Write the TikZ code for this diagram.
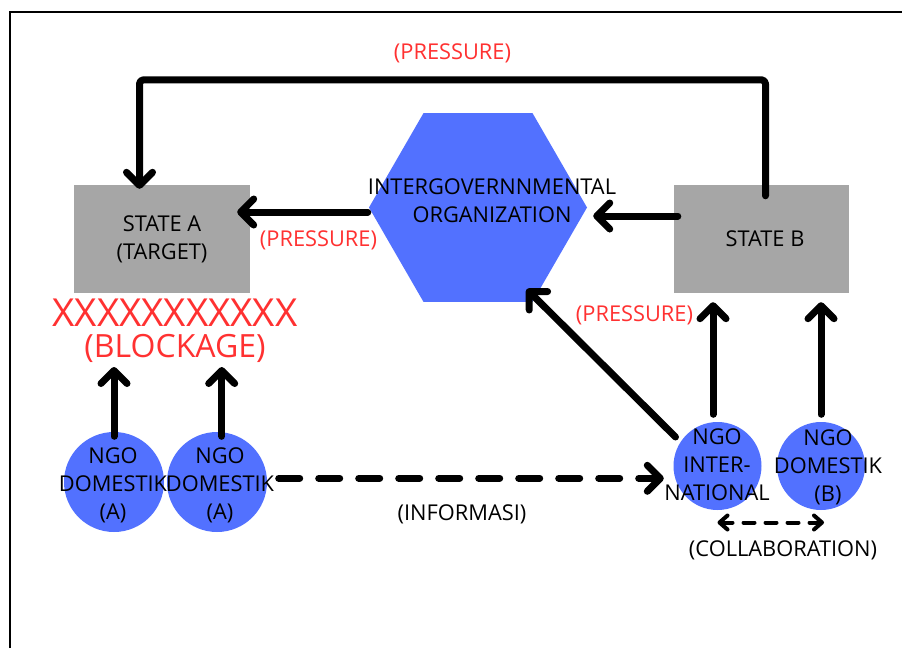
\documentclass[tikz,border=0pt]{standalone}
\usepackage{fontspec}
\setmainfont{Open Sans}
\usetikzlibrary{arrows.meta,shapes.geometric,calc}
\definecolor{cblue}{HTML}{5271FF}
\definecolor{cgray}{HTML}{A6A6A6}
\definecolor{cred}{HTML}{FF3131}
\begin{document}
\begin{tikzpicture}[x=1pt,y=-1pt,
  statebox/.style={rectangle, fill=cgray, minimum width=176pt, minimum height=108pt, inner sep=0pt,
    font=\fontsize{21.8}{28}\selectfont, align=center},
  hexa/.style={regular polygon, regular polygon sides=6, minimum size=218pt, fill=cblue, inner sep=0pt},
  ngo/.style={circle, fill=cblue, inner sep=0pt},
  txt/.style={font=\fontsize{21.8}{28}\selectfont, align=center, inner sep=0pt, text=black},
  redtxt/.style={font=\fontsize{21.8}{28}\selectfont, align=center, inner sep=0pt, text=cred},
  arr/.style={line width=7pt, line cap=round, line join=round, -{Straight Barb[length=13pt,width=26pt,round]}},
  darr/.style={arr, dash pattern=on 21pt off 19pt},
  carr/.style={line width=4pt, line cap=round, dash pattern=on 11pt off 11pt,
    {Straight Barb[length=8pt,width=14pt,round]}-{Straight Barb[length=8pt,width=14pt,round]}}
]
\useasboundingbox (0,0) rectangle (902,648);
\fill[white] (0,0) rectangle (902,648);
% frame
\draw[line width=2pt] (9.5,648) -- (9.5,12) -- (902,12);

% shapes
\node[statebox] (stateA) at (162,239) {STATE A\\(TARGET)};
\node[statebox, minimum width=175pt] (stateB) at (761.5,239) {\hspace*{7pt}STATE B};
\node[hexa] (hex) at (478,207.5) {};
\node[ngo, minimum size=100pt] (A1) at (114,482) {};
\node[ngo, minimum size=100pt] (A2) at (217,482) {};
\node[ngo, minimum size=88pt] (inter) at (717.5,466) {};
\node[ngo, minimum size=88pt] (ngoB) at (821,466) {};

% texts
\node[txt] (tHex) at (492,201) {INTERGOVERNNMENTAL\\ORGANIZATION};
\node[txt] (tA1) at (113,485) {NGO\\DOMESTIK\\(A)};
\node[txt] (tA2) at (220,485) {NGO\\DOMESTIK\\(A)};
\node[txt] (tInter) at (717,465) {NGO\\INTER-\\NATIONAL};
\node[txt] (tB) at (828,467) {NGO\\DOMESTIK\\(B)};
\node[txt] (info) at (462,514) {(INFORMASI)};
\node[txt] (collab) at (783,550) {(COLLABORATION)};
\node[redtxt] (p1) at (452.5,53) {(PRESSURE)};
\node[redtxt] (p2) at (318.5,240.5) {(PRESSURE)};
\node[redtxt] (p3) at (634.5,315.5) {(PRESSURE)};
\node[redtxt, font=\fontsize{38.6}{38}\selectfont] (xx) at (175,313) {XXXXXXXXXXX};
\node[redtxt, font=\fontsize{32}{32}\selectfont] (block) at (175,348) {(BLOCKAGE)};

% connectors
\draw[arr, rounded corners=4pt] ($(stateB.north)+(4,11)$) -- ++(0,-116) -| ($(stateA.north)+(-22.5,4)$);
\draw[arr] ($(hex.west)+(-1,4.5)$) -- ($(stateA.east)+(-13,-27)$);
\draw[arr] ($(stateB.west)+(4,-23)$) -- ($(hex.east)+(6,8.5)$);
\draw[arr] ($(inter.center)+(-42,-29)$) -- ($(hex.south)+(48.7,-13)$);
\draw[arr] ($(inter.north)+(-4.5,-7.5)$) -- ($(stateB.south)+(-48.5,9)$);
\draw[arr] ($(ngoB.north)+(0,-7.5)$) -- ($(stateB.south)+(59.5,9)$);
\draw[arr] ($(A1.north)+(0,4.5)$) -- ($(block.center)+(-61,19)$);
\draw[arr] ($(A2.north)+(4.7,4.5)$) -- ($(block.center)+(46.7,19)$);
\draw[darr] ($(A2.east)+(11.5,-3.7)$) -- ($(inter.west)+(-9.5,12.3)$);
\draw[carr] ($(inter.south)+(0,12.3)$) -- ($(ngoB.south)+(3,12.3)$);
\end{tikzpicture}
\end{document}
